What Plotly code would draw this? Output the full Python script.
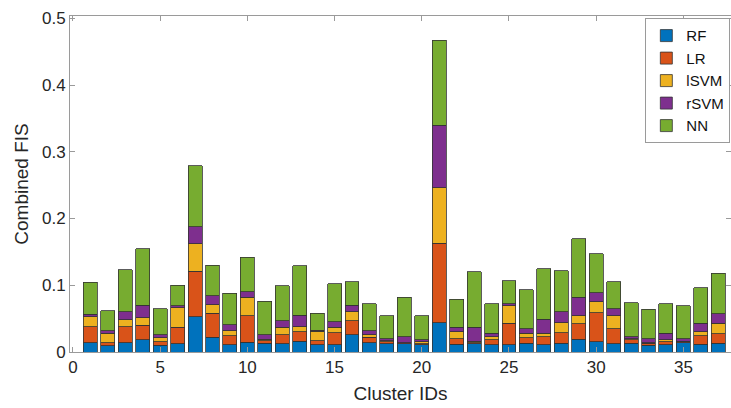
import plotly.graph_objects as go

cluster_ids = list(range(1, 38))

rf = [0.0135, 0.009, 0.014, 0.018, 0.010, 0.0125, 0.053, 0.022, 0.011, 0.0145,
      0.013, 0.0125, 0.016, 0.0105, 0.011, 0.026, 0.014, 0.012, 0.012, 0.0105,
      0.044, 0.0115, 0.012, 0.0105, 0.0105, 0.013, 0.0105, 0.013, 0.019, 0.0155,
      0.012, 0.013, 0.010, 0.011, 0.014, 0.0115, 0.013]
lr = [0.024, 0.0045, 0.024, 0.022, 0.005, 0.0245, 0.068, 0.036, 0.013, 0.0395,
      0.004, 0.0135, 0.014, 0.0065, 0.018, 0.021, 0.008, 0.0035, 0.0015, 0.0015,
      0.119, 0.0085, 0.002, 0.0075, 0.0325, 0.008, 0.0125, 0.016, 0.023, 0.0435,
      0.023, 0.005, 0.003, 0.004, 0.001, 0.0125, 0.014]
lsvm = [0.015, 0.0145, 0.010, 0.011, 0.006, 0.029, 0.041, 0.013, 0.008, 0.028,
        0.002, 0.011, 0.008, 0.014, 0.008, 0.013, 0.004, 0.001, 0.0005, 0.003,
        0.083, 0.010, 0.002, 0.005, 0.026, 0.007, 0.005, 0.015, 0.012, 0.016,
        0.019, 0.0015, 0.0005, 0.003, 0.001, 0.006, 0.016]
rsvm = [0.004, 0.004, 0.012, 0.019, 0.005, 0.003, 0.026, 0.013, 0.009, 0.008,
        0.007, 0.010, 0.017, 0.0015, 0.008, 0.010, 0.006, 0.0035, 0.009, 0.003,
        0.094, 0.007, 0.021, 0.005, 0.003, 0.007, 0.021, 0.016, 0.028, 0.014,
        0.011, 0.0035, 0.0065, 0.010, 0.004, 0.013, 0.014]
nn = [0.0484, 0.030, 0.063, 0.085, 0.039, 0.031, 0.091, 0.046, 0.047, 0.052,
      0.050, 0.052, 0.074, 0.0255, 0.057, 0.035, 0.040, 0.034, 0.059, 0.036,
      0.127, 0.042, 0.083, 0.044, 0.035, 0.058, 0.076, 0.062, 0.088, 0.058,
      0.040, 0.051, 0.044, 0.044, 0.049, 0.053, 0.061]

series_names = ["RF", "LR", "lSVM", "rSVM", "NN"]
series_values = [rf, lr, lsvm, rsvm, nn]
series_colors = ["#0072BD", "#D95319", "#EDB120", "#7E2F8E", "#77AC30"]

x_ticks = [0, 5, 10, 15, 20, 25, 30, 35]
y_ticks = [0, 0.1, 0.2, 0.3, 0.4, 0.5]
y_tick_labels = ["0", "0.1", "0.2", "0.3", "0.4", "0.5"]

FONT = "Liberation Sans, Arial, Helvetica, sans-serif"
TXT = "#262626"
AX = "#9a9a9a"

fig = go.Figure()
for name, vals, col in zip(series_names, series_values, series_colors):
    fig.add_trace(go.Bar(
        x=cluster_ids, y=vals, name=name,
        marker=dict(color=col, line=dict(color="#333333", width=0.8)),
        width=0.8,
    ))

fig.update_layout(
    barmode="stack",
    width=731, height=408,
    margin=dict(l=70, r=0, t=16, b=56, autoexpand=False),
    paper_bgcolor="white", plot_bgcolor="white",
    font=dict(family=FONT, color=TXT, size=17),
    legend=dict(
        x=0.999, xanchor="right", y=0.993, yanchor="top",
        bordercolor="#9a9a9a", borderwidth=1, bgcolor="white",
        font=dict(size=15, color="#111111"),
        tracegroupgap=0, traceorder="normal",
        itemwidth=30,
    ),
    showlegend=True,
)
fig.update_xaxes(
    range=[-0.17, 37.73], tickvals=x_ticks,
    showline=True, linecolor=AX, linewidth=1, mirror="ticks",
    ticks="inside", ticklen=5, tickcolor=AX,
    showgrid=False, zeroline=False,
    tickfont=dict(size=17, color=TXT),
    title=dict(text="Cluster IDs", font=dict(size=19, color=TXT), standoff=10),
)
fig.update_yaxes(
    range=[0, 0.5035], tickvals=y_ticks, ticktext=y_tick_labels,
    showline=True, linecolor=AX, linewidth=1, mirror="ticks",
    ticks="inside", ticklen=5, tickcolor=AX,
    showgrid=False, zeroline=False,
    tickfont=dict(size=17, color=TXT),
    title=dict(text="Combined FIS", font=dict(size=19, color=TXT), standoff=8),
)

fig.write_html("out.html")
